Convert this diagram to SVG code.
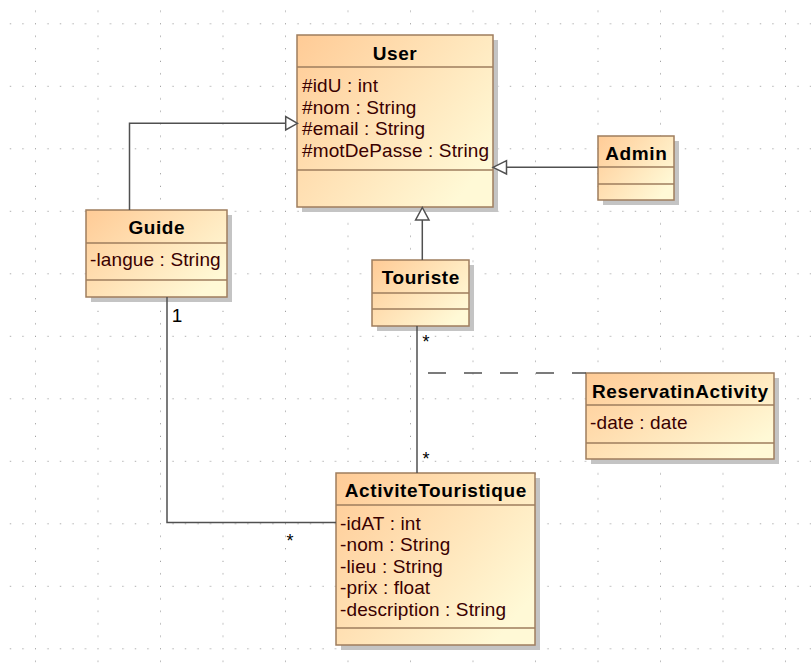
<svg xmlns="http://www.w3.org/2000/svg" width="811" height="669" viewBox="0 0 811 669">
<defs>
<pattern id="grid" x="35" y="23.3" width="62.5" height="62.5" patternUnits="userSpaceOnUse">
<g fill="#8c8c8c">
<rect x="0" y="0" width="1" height="1"/><rect x="12.5" y="0" width="1" height="1"/><rect x="25" y="0" width="1" height="1"/><rect x="37.5" y="0" width="1" height="1"/><rect x="50" y="0" width="1" height="1"/>
<rect x="0" y="12.5" width="1" height="1"/><rect x="0" y="25" width="1" height="1"/><rect x="0" y="37.5" width="1" height="1"/><rect x="0" y="50" width="1" height="1"/>
</g>
</pattern>
<linearGradient id="fillg" x1="0" y1="0" x2="1" y2="0.7">
<stop offset="0" stop-color="#FFCB96"/>
<stop offset="1" stop-color="#FFF9D6"/>
</linearGradient>
</defs>
<style>
.shadow{fill:#c4c4c4}
.box{fill:url(#fillg);stroke:#9F7D5E;stroke-width:1.5}
.sep{stroke:#9F7D5E;stroke-width:1.5;fill:none}
.title{font-family:"Liberation Sans",Arial,sans-serif;font-size:19px;font-weight:bold;fill:#000;text-anchor:middle;letter-spacing:0.6px}
.attr{font-family:"Liberation Sans",Arial,sans-serif;font-size:19px;fill:#3a0000;letter-spacing:0.12px}
.edge{stroke:#505050;stroke-width:1.5;fill:none}
.dash{stroke:#505050;stroke-width:1.5;fill:none;stroke-dasharray:18 18}
.head{fill:#fff;stroke:#505050;stroke-width:1.5}
.mult{font-family:"Liberation Sans",Arial,sans-serif;fill:#000}
</style>
<rect x="0" y="0" width="811" height="669" fill="#fff"/>
<rect x="0" y="0" width="811" height="669" fill="url(#grid)"/>

<g id="node-user">
<rect class="shadow" x="302" y="40" width="196" height="172"/>
<rect class="box" x="297" y="35" width="196" height="172"/>
<path class="sep" d="M297 67 H493 M297 170 H493"/>
<text class="title" x="395" y="60">User</text>
<text class="attr" x="302" y="92">#idU : int</text>
<text class="attr" x="302" y="113.5">#nom : String</text>
<text class="attr" x="302" y="135">#email : String</text>
<text class="attr" x="302" y="156.5">#motDePasse : String</text>
</g>

<g id="node-admin">
<rect class="shadow" x="603" y="141" width="76" height="64"/>
<rect class="box" x="598" y="136" width="76" height="64"/>
<path class="sep" d="M598 167 H674 M598 184 H674"/>
<text class="title" x="636.3" y="159.5">Admin</text>
</g>

<g id="node-guide">
<rect class="shadow" x="91" y="215" width="141" height="87"/>
<rect class="box" x="86" y="210" width="141" height="87"/>
<path class="sep" d="M86 243 H227 M86 280 H227"/>
<text class="title" x="156.8" y="234.3">Guide</text>
<text class="attr" x="90" y="266">-langue : String</text>
</g>

<g id="node-touriste">
<rect class="shadow" x="377" y="265" width="97" height="66"/>
<rect class="box" x="372" y="260" width="97" height="66"/>
<path class="sep" d="M372 293 H469 M372 309 H469"/>
<text class="title" x="420.8" y="284.3">Touriste</text>
</g>

<g id="node-reservatinactivity">
<rect class="shadow" x="591" y="378" width="188" height="86"/>
<rect class="box" x="586" y="373" width="188" height="86"/>
<path class="sep" d="M586 405 H774 M586 443 H774"/>
<text class="title" x="680.3" y="398.3">ReservatinActivity</text>
<text class="attr" x="590" y="429.3">-date : date</text>
</g>

<g id="node-activitetouristique">
<rect class="shadow" x="341" y="478" width="199" height="172"/>
<rect class="box" x="336" y="473" width="199" height="172"/>
<path class="sep" d="M336 505 H535 M336 628 H535"/>
<text class="title" x="435.8" y="497.3">ActiviteTouristique</text>
<text class="attr" x="340" y="530">-idAT : int</text>
<text class="attr" x="340" y="551.4">-nom : String</text>
<text class="attr" x="340" y="572.8">-lieu : String</text>
<text class="attr" x="340" y="594.2">-prix : float</text>
<text class="attr" x="340" y="615.6">-description : String</text>
</g>

<g id="connectors">
<path class="edge" d="M129.5 210 V123.3 H285.7"/>
<polygon class="head" points="297.5,123.3 285.7,116.6 285.7,130"/>
<path class="edge" d="M598 167.3 H506.5"/>
<polygon class="head" points="493,167.3 506.5,160.6 506.5,174"/>
<path class="edge" d="M422.3 260 V220"/>
<polygon class="head" points="422.3,207.5 415.6,220 429,220"/>
<path class="edge" d="M167 297 V522.5 H336"/>
<path class="edge" d="M417 326 V473"/>
<path class="dash" d="M428 373 H586"/>
<text class="mult" x="177" y="321.5" font-size="19" text-anchor="middle">1</text>
<text class="mult" x="290" y="547" font-size="18" text-anchor="middle">*</text>
<text class="mult" x="426" y="347.5" font-size="18" text-anchor="middle">*</text>
<text class="mult" x="426" y="464.5" font-size="18" text-anchor="middle">*</text>
</g>
</svg>
